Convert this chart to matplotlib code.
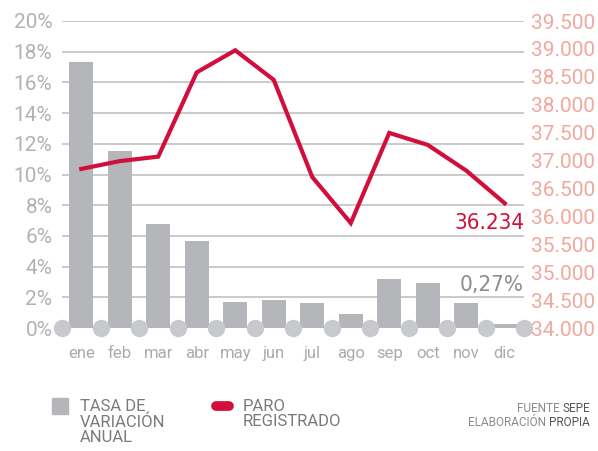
import matplotlib
matplotlib.use("Agg")
import matplotlib.pyplot as plt
from matplotlib.patches import Rectangle
from matplotlib.lines import Line2D

months = ["ene", "feb", "mar", "abr", "may", "jun", "jul", "ago", "sep", "oct", "nov", "dic"]
tasa = [17.3, 11.5, 6.8, 5.7, 1.7, 1.8, 1.6, 0.9, 3.2, 2.9, 1.6, 0.27]
paro = [36850, 36990, 37070, 38580, 38975, 38445, 36705, 35880, 37495, 37280, 36820, 36234]
left_ticks = list(range(0, 21, 2))
right_ticks = list(range(34000, 39501, 500))

GRAY_BAR = "#b5b6b9"
RED = "#d20f3c"
GRID = "#c6c6c6"
LEFT_LBL = "#b2b2b6"
RIGHT_LBL = "#f0a89f"
MONTH_LBL = "#ababab"

plt.rcParams['font.family'] = ['Roboto', 'DejaVu Sans']

fig = plt.figure(figsize=(5.98, 4.51), dpi=100)
ax = fig.add_axes([62/598, 1-328/451, (524-62)/598, (328-21)/451])
ax2 = ax.twinx()

x = list(range(len(months)))
ax.set_xlim(-0.5, len(months) - 0.5)
ax.set_ylim(0, 20)
ax2.set_ylim(34000, 39500)

for t in left_ticks:
    ax.axhline(t, color=GRID, lw=1.3, zorder=0)

ax.bar(x, tasa, width=0.63, color=GRAY_BAR, zorder=2)

circ_x = [i - 0.5 for i in range(len(months) + 1)]
ax.plot(circ_x, [0]*len(circ_x), 'o', ms=12.5, color="#c8c9cc", mec="none",
        clip_on=False, zorder=3)

ax2.plot(x, paro, color=RED, lw=3, solid_joinstyle='miter', zorder=4, clip_on=False)

ax.set_yticks(left_ticks)
ax.set_yticklabels([f"{t}%" for t in left_ticks])
ax.set_xticks(x)
ax.set_xticklabels(months)
ax2.set_yticks(right_ticks)
ax2.set_yticklabels([f"{t:,}".replace(",", ".") for t in right_ticks])

for a in (ax, ax2):
    for s in a.spines.values():
        s.set_visible(False)
ax.tick_params(axis='y', length=0, pad=7, labelsize=15, labelcolor=LEFT_LBL)
ax.tick_params(axis='x', length=0, pad=13, labelsize=12, labelcolor=MONTH_LBL)
ax2.tick_params(axis='y', length=0, pad=5, labelsize=15, labelcolor=RIGHT_LBL)

ax2.set_zorder(ax.get_zorder() + 1)
ax2.patch.set_visible(False)

# annotations
ax2.annotate(f"{paro[-1]:,}".replace(",", "."), xy=(11.5, paro[-1]), xytext=(0, -14),
             textcoords='offset points', color=RED, fontsize=16, ha='right', va='center',
             family='DejaVu Sans', fontstretch='condensed')
ax.text(11.5, 2.8, f"{tasa[-1]:.2f}%".replace(".", ","), color="#8c8c8c", fontsize=16,
        ha='right', va='center', family='DejaVu Sans', fontstretch='condensed')

# legend
fig.patches.append(Rectangle((52/598, 1-414/451), 16/598, 16/451, transform=fig.transFigure,
                             color=GRAY_BAR))
fig.text(80/598, 1-399/451, "TASA DE\nVARIACIÓN\nANUAL", color="#7a7a7a", fontsize=12,
         ha='left', va='top', linespacing=1.02)
fig.lines.append(Line2D([216/598, 229/598], [1-406/451, 1-406/451], transform=fig.transFigure,
                        color=RED, lw=7, solid_capstyle='round'))
fig.text(243/598, 1-399/451, "PARO\nREGISTRADO", color="#7a7a7a", fontsize=12,
         ha='left', va='top', linespacing=1.02)

t1 = fig.text(590/598, 1-408/451, "SEPE", color="#555555", fontsize=8.5, ha='right', va='center')
ax.annotate("FUENTE ", xy=(0, 0.5), xycoords=t1, color="#8c8c8c", fontsize=8.5,
            ha='right', va='center', annotation_clip=False)
t2 = fig.text(590/598, 1-422/451, "PROPIA", color="#555555", fontsize=8.5, ha='right', va='center')
ax.annotate("ELABORACIÓN ", xy=(0, 0.5), xycoords=t2, color="#8c8c8c", fontsize=8.5,
            ha='right', va='center', annotation_clip=False)

fig.savefig("out.png", dpi=100)
